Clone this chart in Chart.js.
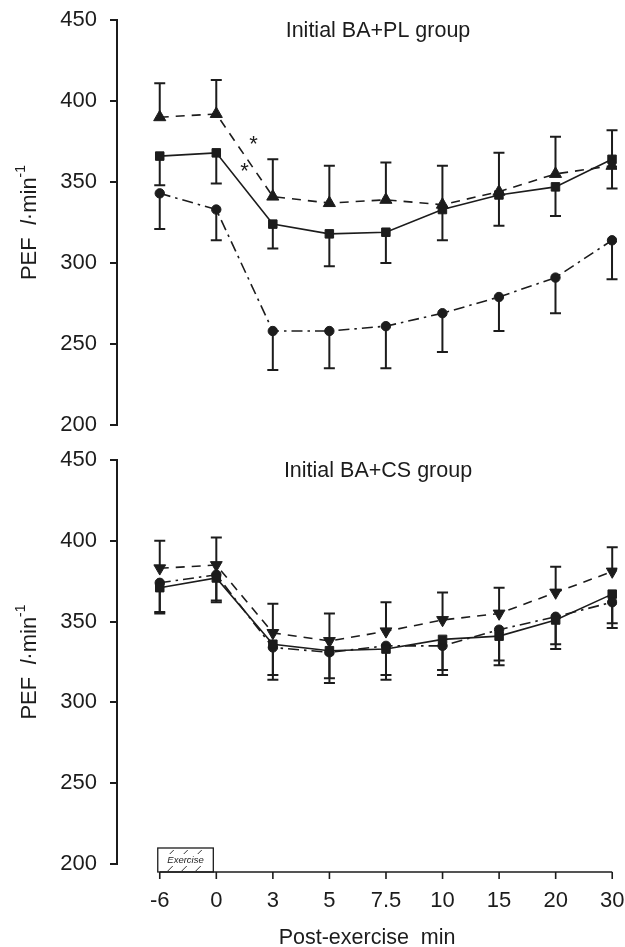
<!DOCTYPE html>
<html lang="en">
<head>
<meta charset="UTF-8">
<title>PEF after exercise</title>
<script src="https://cdn.jsdelivr.net/npm/chart.js"></script>
<style>
  body { margin: 0; background: #fff; }
  .panel { position: absolute; left: 0; width: 625px; }
  #top { top: 0; height: 440px; }
  #bottom { top: 440px; height: 507px; }
</style>
</head>
<body>
<div class="panel" id="top"><canvas id="chartPL"></canvas></div>
<div class="panel" id="bottom"><canvas id="chartCS"></canvas></div>
<script>
// time points (equally spaced on the axis)
const timeLabels = ['-6', '0', '3', '5', '7.5', '10', '15', '20', '30'];

// Initial BA+PL group
const plTriangle   = [390, 392, 341, 337, 339, 336, 344, 355, 360];
const plTriangleUp = [411, 413, 364, 360, 362, 360, 368, 378, 382];
const plSquare     = [366, 368, 324, 318, 319, 333, 342, 347, 364];
const plSquareDown = [348, 349, 309, 298, 300, 314, 323, 329, 346];
const plCircle     = [343, 333, 258, 258, 261, 269, 279, 291, 314];
const plCircleDown = [321, 314, 234, 235, 235, 245, 258, 269, 290];
const plStarX = [1.66, 1.5];
const plStarY = [376, 359];

// Initial BA+CS group
const csTriangle   = [383, 385, 343, 338, 344, 351, 355, 368, 381];
const csTriangleUp = [400, 402, 361, 355, 362, 368, 371, 384, 396];
const csSquare     = [371, 377, 336, 332, 333, 339, 341, 351, 367];
const csSquareDown = [355, 362, 314, 312, 314, 317, 323, 333, 346];
const csCircle     = [374, 379, 334, 331, 335, 335, 345, 353, 362];
const csCircleDown = [356, 363, 317, 315, 317, 320, 326, 336, 349];

const INK = '#1c1c1c';
const SANS = "'Liberation Sans', Arial, sans-serif";

function pts(arr) {
  return arr.map((v, i) => ({ x: i, y: v }));
}

function series(values, errs, style, dash, radius, rotation) {
  return {
    data: pts(values),
    errorEnd: errs,
    borderColor: INK,
    backgroundColor: INK,
    borderWidth: 1.6,
    borderDash: dash,
    pointStyle: style,
    pointRadius: radius,
    pointRotation: rotation || 0,
    pointBorderWidth: 1,
    tension: 0
  };
}

// error bars, one side only, with a cap
const errorBars = {
  id: 'errorBars',
  beforeDatasetsDraw(chart) {
    const ctx = chart.ctx, x = chart.scales.x, y = chart.scales.y;
    ctx.save();
    ctx.strokeStyle = INK;
    ctx.lineWidth = 2;
    chart.data.datasets.forEach(ds => {
      if (!ds.errorEnd) return;
      ds.data.forEach((p, i) => {
        const px = x.getPixelForValue(p.x);
        const y0 = y.getPixelForValue(p.y);
        const y1 = y.getPixelForValue(ds.errorEnd[i]);
        ctx.beginPath();
        ctx.moveTo(px, y0); ctx.lineTo(px, y1);
        ctx.moveTo(px - 5.5, y1); ctx.lineTo(px + 5.5, y1);
        ctx.stroke();
      });
    });
    ctx.restore();
  }
};

// panel title, y axis label, stars, exercise bar and x axis line
const decor = {
  id: 'decor',
  afterDraw(chart, args, opts) {
    const ctx = chart.ctx, x = chart.scales.x, y = chart.scales.y;
    const area = chart.chartArea;
    ctx.save();
    ctx.fillStyle = INK;
    ctx.strokeStyle = INK;

    // group title
    ctx.font = '21.5px ' + SANS;
    ctx.textAlign = 'center';
    ctx.textBaseline = 'middle';
    ctx.fillText(opts.title, 378, 31);

    // y axis label: PEF  l·min-1
    const cy = (area.top + area.bottom) / 2;
    ctx.translate(30, cy);
    ctx.rotate(-Math.PI / 2);
    ctx.textAlign = 'left';
    const parts = [
      { t: 'PEF  ', f: '22px ' + SANS, dy: 0 },
      { t: 'l', f: 'italic 22px ' + SANS, dy: 0 },
      { t: '\u00b7min', f: '22px ' + SANS, dy: 0 },
      { t: '-1', f: '14px ' + SANS, dy: -9 }
    ];
    let total = 0;
    parts.forEach(p => { ctx.font = p.f; p.w = ctx.measureText(p.t).width; total += p.w; });
    let cx = -total / 2;
    parts.forEach(p => { ctx.font = p.f; ctx.fillText(p.t, cx, p.dy); cx += p.w; });
    ctx.restore();
    ctx.save();
    ctx.fillStyle = INK;
    ctx.strokeStyle = INK;

    // significance stars
    if (opts.starX) {
      ctx.font = '22px ' + SANS;
      ctx.textAlign = 'center';
      ctx.textBaseline = 'middle';
      opts.starX.forEach((sx, i) => {
        ctx.fillText('*', x.getPixelForValue(sx), y.getPixelForValue(opts.starY[i]) + 5);
      });
    }

    // x axis line, ticks and the exercise bar
    if (opts.xAxis) {
      const ay = area.bottom + 8;
      const first = x.getPixelForValue(0);
      const last = x.getPixelForValue(timeLabels.length - 1);
      ctx.lineWidth = 1.6;
      ctx.beginPath();
      ctx.moveTo(first, ay); ctx.lineTo(last, ay);
      timeLabels.forEach((l, i) => {
        const px = x.getPixelForValue(i);
        ctx.moveTo(px, ay); ctx.lineTo(px, ay + 7);
      });
      ctx.stroke();

      const ex0 = x.getPixelForValue(0) - 2;
      const ex1 = x.getPixelForValue(1) - 3;
      ctx.lineWidth = 1.3;
      ctx.strokeRect(ex0, ay - 24, ex1 - ex0, 24);
      ctx.lineWidth = 0.9;
      ctx.beginPath();
      [10, 24, 38].forEach(o => {
        ctx.moveTo(ex0 + o, ay - 1); ctx.lineTo(ex0 + o + 5, ay - 6);
        ctx.moveTo(ex0 + o + 2, ay - 18); ctx.lineTo(ex0 + o + 6, ay - 22);
      });
      ctx.stroke();
      ctx.font = 'italic 9.5px ' + SANS;
      ctx.textAlign = 'center';
      ctx.textBaseline = 'middle';
      ctx.fillText('Exercise', (ex0 + ex1) / 2, ay - 12);
    }
    ctx.restore();
  }
};

function makeOptions(showX, decorOpts) {
  return {
    responsive: true,
    maintainAspectRatio: false,
    animation: false,
    layout: { padding: { top: 20, right: 5, bottom: showX ? 0 : 15, left: 0 } },
    plugins: {
      legend: { display: false },
      tooltip: { enabled: false },
      decor: decorOpts
    },
    scales: {
      x: {
        type: 'linear',
        min: -0.756,
        max: 8.088,
        display: showX,
        grid: { display: false, drawTicks: false },
        border: { display: false },
        afterBuildTicks: s => { s.ticks = timeLabels.map((l, i) => ({ value: i })); },
        afterFit: s => {
          if (!showX) return;
          s.height = 83; s.paddingLeft = 0; s.paddingRight = 0;
        },
        ticks: {
          autoSkip: false,
          maxRotation: 0,
          padding: 24,
          color: INK,
          font: { family: SANS, size: 22 },
          callback: v => timeLabels[v]
        },
        title: {
          display: true,
          text: 'Post-exercise  min',
          color: INK,
          font: { family: SANS, size: 21.5, lineHeight: 0.8 },
          padding: { top: 0, bottom: 0 }
        }
      },
      y: {
        min: 200,
        max: 450,
        afterFit: s => { s.width = 117; s.paddingTop = 0; s.paddingBottom = 0; },
        grid: { drawOnChartArea: false, drawTicks: true, tickLength: 7, color: INK, lineWidth: 2 },
        border: { display: true, color: INK, width: 2 },
        ticks: {
          stepSize: 50,
          padding: 13,
          color: INK,
          font: { family: SANS, size: 22 }
        }
      }
    }
  };
}

new Chart(document.getElementById('chartPL'), {
  type: 'line',
  data: {
    datasets: [
      series(plTriangle, plTriangleUp, 'triangle', [9, 7], 7),
      series(plSquare, plSquareDown, 'rect', [], 6),
      series(plCircle, plCircleDown, 'circle', [11, 5, 2.5, 5], 4.7)
    ]
  },
  options: makeOptions(false, { title: 'Initial BA+PL group', starX: plStarX, starY: plStarY }),
  plugins: [errorBars, decor]
});

new Chart(document.getElementById('chartCS'), {
  type: 'line',
  data: {
    datasets: [
      series(csTriangle, csTriangleUp, 'triangle', [9, 7], 6.8, 180),
      series(csSquare, csSquareDown, 'rect', [], 6),
      series(csCircle, csCircleDown, 'circle', [11, 5, 2.5, 5], 4.7)
    ]
  },
  options: makeOptions(true, { title: 'Initial BA+CS group', xAxis: true }),
  plugins: [errorBars, decor]
});
</script>
</body>
</html>
